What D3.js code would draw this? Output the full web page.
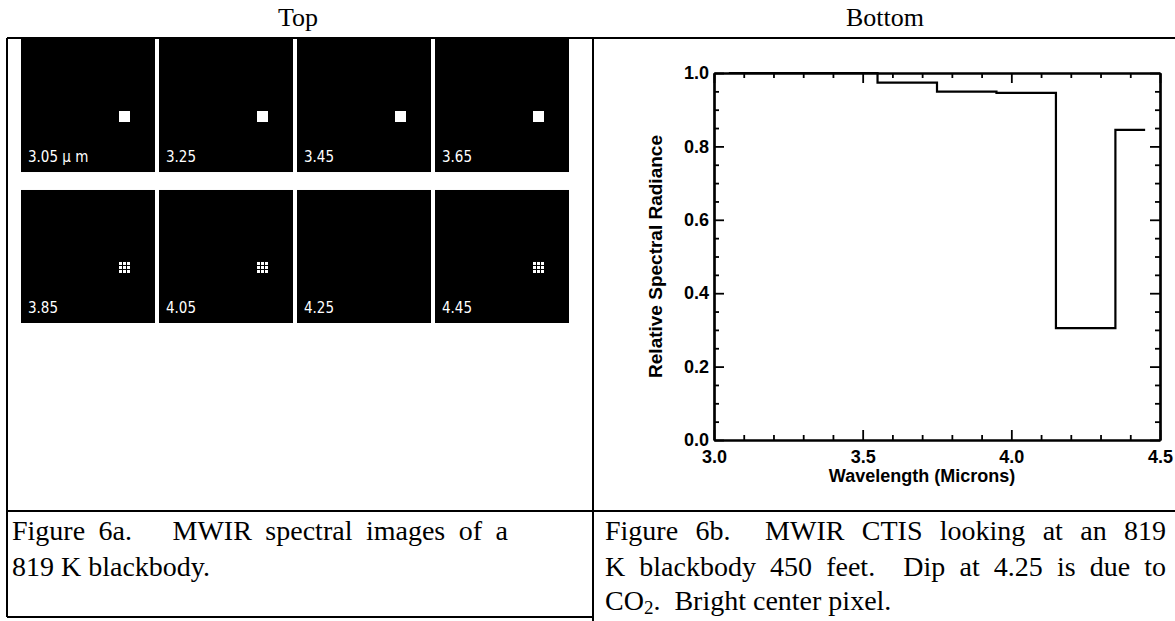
<!DOCTYPE html>
<html>
<head>
<meta charset="utf-8">
<script src="https://cdn.jsdelivr.net/npm/d3@7"></script>
<style>
  body { margin: 0; background: #fff; }
  svg { display: block; }
</style>
</head>
<body>
<script>
// spectral bands (band centres, microns) and relative radiance of the centre pixel
var wavelengths = [3.05, 3.25, 3.45, 3.65, 3.85, 4.05, 4.25, 4.45];
var radiance = [1.0, 1.0, 1.0, 0.974, 0.949, 0.946, 0.305, 0.845];

// image tiles
var tileLabels = ["3.05 \u00b5 m", "3.25", "3.45", "3.65", "3.85", "4.05", "4.25", "4.45"];
var spotKinds = ["solid", "solid", "solid", "solid", "grid", "grid", "none", "grid"];

// axis ticks
var yMajor = [0.0, 0.2, 0.4, 0.6, 0.8, 1.0];
var xMajor = [3.0, 3.5, 4.0, 4.5];

var headers = ["Top", "Bottom"];
var captionA = ["Figure 6a.   MWIR spectral images of a", "819 K blackbody."];
var captionB = ["Figure 6b.  MWIR CTIS looking at an 819", "K blackbody 450 feet.  Dip at 4.25 is due to"];

window.onload = () => {
  var W = 1175, H = 621;
  var svg = d3.select("body").append("svg")
    .attr("width", W)
    .attr("height", H);

  var serif = "'Liberation Serif', 'Times New Roman', serif";
  var sans = "'Liberation Sans', Arial, sans-serif";

  // ---- table frame ----
  var colX = [7, 593, 1174];
  var rowY = [38, 511, 617];
  var frame = svg.append("g").attr("stroke", "#000").attr("stroke-width", 2);
  frame.append("line").attr("x1", colX[0]).attr("x2", W).attr("y1", rowY[0]).attr("y2", rowY[0]);
  frame.append("line").attr("x1", colX[0]).attr("x2", W).attr("y1", rowY[1]).attr("y2", rowY[1]);
  frame.append("line").attr("x1", colX[0]).attr("x2", colX[1]).attr("y1", rowY[2]).attr("y2", rowY[2]);
  frame.append("line").attr("x1", colX[0]).attr("x2", colX[0]).attr("y1", rowY[0]).attr("y2", rowY[2]);
  frame.append("line").attr("x1", colX[1]).attr("x2", colX[1]).attr("y1", rowY[0]).attr("y2", H);

  svg.selectAll("text.hdr")
    .data(headers)
    .enter().append("text")
    .attr("class", "hdr")
    .attr("x", (d, i) => [298, 885][i])
    .attr("y", 26)
    .attr("text-anchor", "middle")
    .style("font-family", serif)
    .style("font-size", "26px")
    .text(d => d);

  // ---- spectral image tiles ----
  var colBand = d3.scaleBand().domain(d3.range(4)).range([21, 569]).paddingInner(0.029);
  var rowBand = d3.scaleBand().domain(d3.range(2)).range([39, 323]).paddingInner(0.119);

  var tiles = svg.selectAll("g.tile")
    .data(wavelengths)
    .enter().append("g")
    .attr("class", "tile")
    .attr("transform", (d, i) => "translate(" + colBand(i % 4) + "," + rowBand(Math.floor(i / 4)) + ")");

  tiles.append("rect")
    .attr("width", colBand.bandwidth())
    .attr("height", rowBand.bandwidth())
    .attr("fill", "#000");

  tiles.append("text")
    .attr("x", 7)
    .attr("y", rowBand.bandwidth() - 10)
    .attr("fill", "#fff")
    .style("font-family", "'DejaVu Sans Condensed', 'Liberation Sans Narrow', sans-serif")
    .style("font-size", "15px")
    .text((d, i) => tileLabels[i]);

  // bright spot: solid square or 3x3 dotted one
  tiles.each(function(d, i) {
    var g = d3.select(this);
    if (spotKinds[i] === "solid") {
      g.append("rect").attr("x", 98).attr("y", 72).attr("width", 11).attr("height", 11).attr("fill", "#fff");
    } else if (spotKinds[i] === "grid") {
      g.selectAll("rect.dot")
        .data(d3.range(9))
        .enter().append("rect")
        .attr("class", "dot")
        .attr("x", k => 98 + (k % 3) * 4)
        .attr("y", k => 72 + Math.floor(k / 3) * 4)
        .attr("width", 3)
        .attr("height", 3)
        .attr("fill", "#fff");
    }
  });

  // ---- spectrum plot ----
  var x = d3.scaleLinear().domain([3.0, 4.5]).range([714, 1160]);
  var y = d3.scaleLinear().domain([0, 1]).range([440, 73]);
  var x0 = x.range()[0], x1 = x.range()[1], y0 = y.range()[0], y1 = y.range()[1];

  var xMinor = d3.range(30, 46).map(v => v / 10).filter(v => xMajor.indexOf(v) < 0);
  var yMinor = d3.range(0, 21).map(v => v / 20).filter(v => Math.abs(v * 5 - Math.round(v * 5)) > 1e-6);

  function styleAxis(g) {
    g.select(".domain").attr("stroke-width", 2.2);
    g.selectAll(".tick line").attr("stroke-width", 1.8);
    g.selectAll(".tick text")
      .style("font-family", sans)
      .style("font-weight", "bold")
      .style("font-size", "18px")
      .attr("fill", "#000");
  }

  // bottom
  svg.append("g").attr("transform", "translate(0," + y0 + ")")
    .call(d3.axisBottom(x).tickValues(xMinor).tickSize(-5).tickSizeOuter(0).tickFormat(""))
    .call(styleAxis);
  svg.append("g").attr("transform", "translate(0," + y0 + ")")
    .call(d3.axisBottom(x).tickValues(xMajor).tickSize(-10).tickSizeOuter(0).tickPadding(10).tickFormat(d3.format(".1f")))
    .call(styleAxis);
  // top
  svg.append("g").attr("transform", "translate(0," + y1 + ")")
    .call(d3.axisTop(x).tickValues(xMinor).tickSize(-5).tickSizeOuter(0).tickFormat(""))
    .call(styleAxis);
  svg.append("g").attr("transform", "translate(0," + y1 + ")")
    .call(d3.axisTop(x).tickValues(xMajor).tickSize(-10).tickSizeOuter(0).tickFormat(""))
    .call(styleAxis);
  // left
  svg.append("g").attr("transform", "translate(" + x0 + ",0)")
    .call(d3.axisLeft(y).tickValues(yMinor).tickSize(-5).tickSizeOuter(0).tickFormat(""))
    .call(styleAxis);
  svg.append("g").attr("transform", "translate(" + x0 + ",0)")
    .call(d3.axisLeft(y).tickValues(yMajor).tickSize(-10).tickSizeOuter(0).tickPadding(5).tickFormat(d3.format(".1f")))
    .call(styleAxis);
  // right
  svg.append("g").attr("transform", "translate(" + x1 + ",0)")
    .call(d3.axisRight(y).tickValues(yMinor).tickSize(-5).tickSizeOuter(0).tickFormat(""))
    .call(styleAxis);
  svg.append("g").attr("transform", "translate(" + x1 + ",0)")
    .call(d3.axisRight(y).tickValues(yMajor).tickSize(-10).tickSizeOuter(0).tickFormat(""))
    .call(styleAxis);

  // histogram-style spectrum
  var pts = wavelengths.map((w, i) => [w, radiance[i]]);
  var line = d3.line()
    .x(d => x(d[0]))
    .y(d => y(d[1]))
    .curve(d3.curveStep);
  svg.append("path")
    .datum(pts)
    .attr("d", line)
    .attr("fill", "none")
    .attr("stroke", "#000")
    .attr("stroke-width", 2.2);

  svg.append("text")
    .attr("transform", "translate(662," + ((y0 + y1) / 2) + ") rotate(-90)")
    .attr("text-anchor", "middle")
    .style("font-family", sans)
    .style("font-weight", "bold")
    .style("font-size", "19px")
    .text("Relative Spectral Radiance");

  svg.append("text")
    .attr("x", 922)
    .attr("y", 482)
    .attr("text-anchor", "middle")
    .style("font-family", sans)
    .style("font-weight", "bold")
    .style("font-size", "18px")
    .text("Wavelength (Microns)");

  // ---- captions ----
  var lineY = [540, 576, 610];
  var capSize = "28px";

  // spread a line's words so it ends at xEnd
  function justify(sel, xStart, xEnd) {
    sel.each(function(d) {
      var natural = this.getComputedTextLength();
      var gaps = (d.match(/ /g) || []).length;
      if (gaps > 0 && natural < xEnd - xStart) {
        d3.select(this).style("word-spacing", ((xEnd - xStart - natural) / gaps) + "px");
      }
    });
  }

  var capA = svg.selectAll("text.capA")
    .data(captionA)
    .enter().append("text")
    .attr("class", "capA")
    .attr("x", 12)
    .attr("y", (d, i) => lineY[i])
    .style("font-family", serif)
    .style("font-size", capSize)
    .style("white-space", "pre")
    .text(d => d);
  justify(capA.filter((d, i) => i === 0), 12, 508);

  var capB = svg.selectAll("text.capB")
    .data(captionB)
    .enter().append("text")
    .attr("class", "capB")
    .attr("x", 605)
    .attr("y", (d, i) => lineY[i])
    .style("font-family", serif)
    .style("font-size", capSize)
    .style("white-space", "pre")
    .text(d => d);
  justify(capB, 605, 1166);

  var last = svg.append("text")
    .attr("x", 605)
    .attr("y", lineY[2])
    .style("font-family", serif)
    .style("font-size", capSize)
    .style("white-space", "pre");
  last.append("tspan").text("CO");
  last.append("tspan").attr("dy", 4).style("font-size", "19px").text("2");
  last.append("tspan").attr("dy", -4).text(".  Bright center pixel.");
};
</script>
</body>
</html>
